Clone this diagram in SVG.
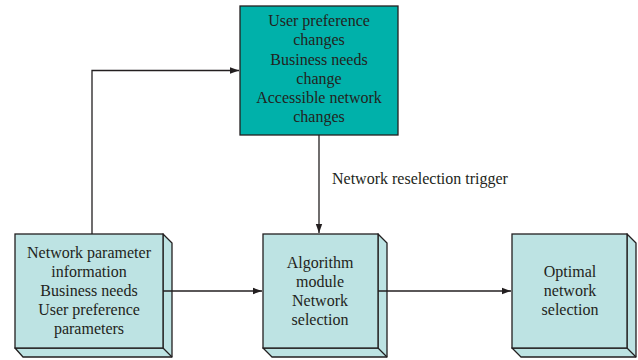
<svg xmlns="http://www.w3.org/2000/svg" width="638" height="360" viewBox="0 0 638 360">
<defs>
<style>
.t{font-family:"Liberation Serif","Times New Roman",serif;font-size:16px;fill:#231f20;text-anchor:middle}
.lbl{font-family:"Liberation Serif","Times New Roman",serif;font-size:16px;fill:#231f20}
.face{fill:#bde3e3;stroke:#231f20;stroke-width:1.3}
.side{fill:#bde3e3;stroke:#231f20;stroke-width:1.3;stroke-linejoin:round}
.top{fill:#00b1aa;stroke:#231f20;stroke-width:1.3}
.c{fill:none;stroke:#231f20;stroke-width:1.3}
</style>
<marker id="ah" markerWidth="10" markerHeight="8" refX="9" refY="4" orient="auto" markerUnits="userSpaceOnUse">
<path d="M0,0.8 L9,4 L0,7.2 Z" fill="#231f20"/>
</marker>
</defs>
<rect width="638" height="360" fill="#ffffff"/>
<g id="changes">
<rect class="top" x="240" y="6" width="158" height="129"/>
<text class="t" x="319" y="26">User preference</text>
<text class="t" x="319" y="45">changes</text>
<text class="t" x="319" y="65">Business needs</text>
<text class="t" x="319" y="84">change</text>
<text class="t" x="319" y="103">Accessible network</text>
<text class="t" x="319" y="122">changes</text>
</g>
<g id="input">
<path class="side" d="M163,234 L172,243 L172,357 L23,357 L15,348 L163,348 Z"/>
<line class="c" x1="163" y1="348" x2="172" y2="357"/>
<rect class="face" x="15" y="234" width="148" height="114"/>
<text class="t" x="89" y="258">Network parameter</text>
<text class="t" x="89" y="277">information</text>
<text class="t" x="89" y="296">Business needs</text>
<text class="t" x="89" y="315">User preference</text>
<text class="t" x="89" y="334">parameters</text>
</g>
<g id="algorithm">
<path class="side" d="M378,234 L387,243 L387,357 L272,357 L263,348 L378,348 Z"/>
<line class="c" x1="378" y1="348" x2="387" y2="357"/>
<rect class="face" x="263" y="234" width="115" height="114"/>
<text class="t" x="320" y="268">Algorithm</text>
<text class="t" x="320" y="287">module</text>
<text class="t" x="320" y="306">Network</text>
<text class="t" x="320" y="325">selection</text>
</g>
<g id="optimal">
<path class="side" d="M627,234 L636,243 L636,357 L521,357 L512,348 L627,348 Z"/>
<line class="c" x1="627" y1="348" x2="636" y2="357"/>
<rect class="face" x="512" y="234" width="115" height="114"/>
<text class="t" x="570" y="277">Optimal</text>
<text class="t" x="570" y="296">network</text>
<text class="t" x="570" y="315">selection</text>
</g>
<g id="connectors">
<polyline class="c" points="92,234 92,70.5 239,70.5" marker-end="url(#ah)"/>
<line class="c" x1="319" y1="135" x2="319" y2="233" marker-end="url(#ah)"/>
<line class="c" x1="163" y1="291" x2="262" y2="291" marker-end="url(#ah)"/>
<line class="c" x1="378" y1="291" x2="511" y2="291" marker-end="url(#ah)"/>
<text class="lbl" x="332" y="184">Network reselection trigger</text>
</g>
</svg>
